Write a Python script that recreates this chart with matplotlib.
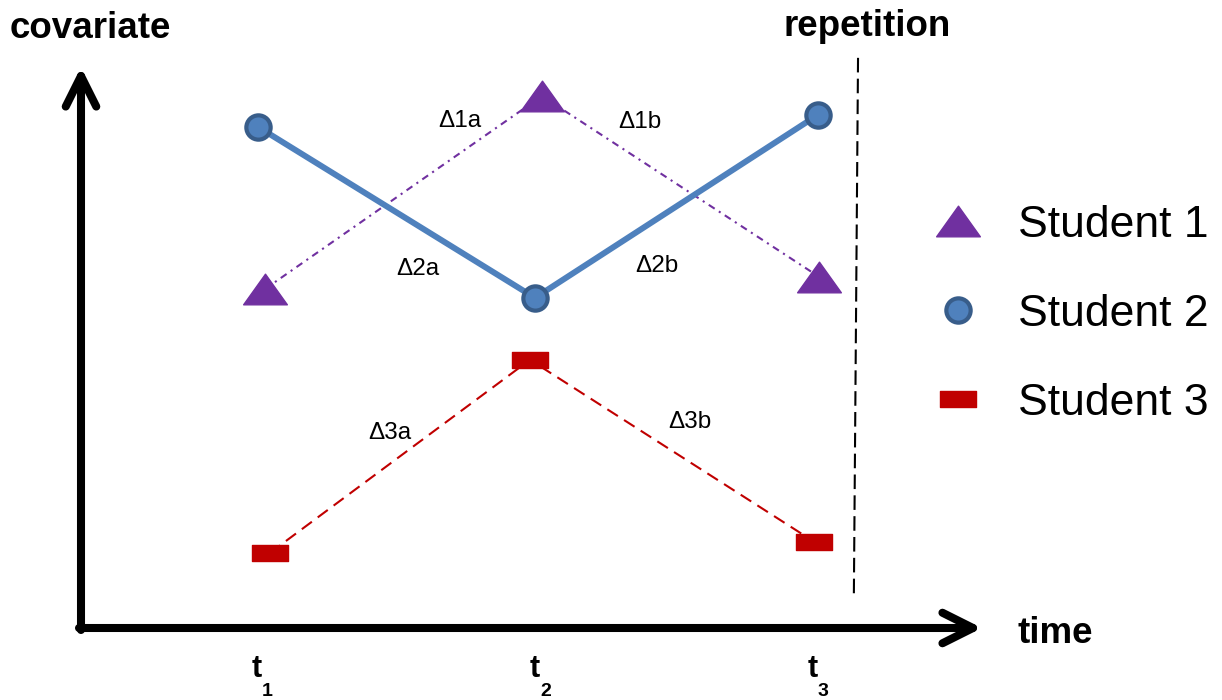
import matplotlib
matplotlib.use("Agg")
import matplotlib.pyplot as plt
from matplotlib.path import Path

plt.rcParams['font.family'] = ['Liberation Sans', 'DejaVu Sans']

# covariate values of the three students at the three time points
student1_t = [1.011, 2.007, 3.004]
student1_v = [6.13, 9.62, 6.35]
student2_t = [0.986, 1.982, 3.000]
student2_v = [9.06, 5.97, 9.28]
student3_t = [1.029, 1.964, 2.986]
student3_v = [1.36, 4.85, 1.56]

time_points = [1, 2, 3]
time_subscripts = ["1", "2", "3"]

# change labels between consecutive time points
delta_labels = ["\u03941a", "\u03941b", "\u03942a", "\u03942b", "\u03943a", "\u03943b"]
delta_t = [1.712, 2.360, 1.561, 2.421, 1.460, 2.540]
delta_v = [9.06, 9.04, 6.38, 6.44, 3.42, 3.62]

# boundary marking the repetition
repetition_t = [3.144, 3.129]
repetition_v = [10.31, 0.60]

purple = "#7030a0"
blue = "#4f81bd"
blue_edge = "#385d8a"
red = "#c00000"

tri = Path([(-1, -0.7), (1, -0.7), (0, 0.7), (-1, -0.7)],
           [Path.MOVETO, Path.LINETO, Path.LINETO, Path.CLOSEPOLY])
rect = Path([(-1, -0.44), (1, -0.44), (1, 0.44), (-1, 0.44), (-1, -0.44)],
            [Path.MOVETO, Path.LINETO, Path.LINETO, Path.LINETO, Path.CLOSEPOLY])

fig = plt.figure(figsize=(12.22, 7), dpi=100)
ax = fig.add_axes([0, 0, 1, 1])
ax.set_xlim(0.0576, 4.4532)
ax.set_ylim(-1.302, 11.356)
ax.axis("off")

# connecting lines
l1, = ax.plot(student1_t, student1_v, color=purple, lw=1.5, zorder=2)
l1.set_dashes([3.4, 2.4, 1, 2.4])
ax.plot(student2_t, student2_v, color=blue, lw=4.3, solid_capstyle="butt", zorder=3)
l3, = ax.plot(student3_t, student3_v, color=red, lw=1.5, zorder=2)
l3.set_dashes([6, 3.5])

# markers
h1, = ax.plot(student1_t, student1_v, ls="none", marker=tri, ms=31.5,
              mfc=purple, mec=purple, mew=1, label="Student 1", zorder=5)
h2, = ax.plot(student2_t, student2_v, ls="none", marker="o", ms=17.5,
              mfc=blue, mec=blue_edge, mew=3, label="Student 2", zorder=5)
h3, = ax.plot(student3_t, student3_v, ls="none", marker=rect, ms=25.5,
              mfc=red, mec=red, mew=1, label="Student 3", zorder=5)

# repetition boundary
rep, = ax.plot(repetition_t, repetition_v, color="black", lw=1.5)
rep.set_dashes([7, 3])

for lab, t, v in zip(delta_labels, delta_t, delta_v):
    ax.text(t, v, lab, fontsize=17.5, ha="center", va="baseline")

# axes arrows
arrow = dict(arrowstyle="->", lw=5.8, color="black", mutation_scale=55,
             shrinkA=0, shrinkB=0, capstyle="round", joinstyle="round")
ax.annotate("", xy=(982, 72), xytext=(79, 72), xycoords="figure pixels",
            textcoords="figure pixels", arrowprops=arrow)
ax.annotate("", xy=(81, 633), xytext=(81, 70), xycoords="figure pixels",
            textcoords="figure pixels", arrowprops=arrow)

ax.text(10 / 1222, 1 - 38 / 700, "covariate", transform=ax.transAxes,
        fontsize=26.5, fontweight="bold", ha="left", va="baseline")
ax.text(783 / 1222, 1 - 36 / 700, "repetition", transform=ax.transAxes,
        fontsize=26.5, fontweight="bold", ha="left", va="baseline")
ax.text(1017 / 1222, 1 - 643 / 700, "time", transform=ax.transAxes,
        fontsize=26.5, fontweight="bold", ha="left", va="baseline")

# time tick labels
xt = ax.get_xaxis_transform()
for t, sub in zip(time_points, time_subscripts):
    ax.text(t, 1 - 677 / 700, "t", transform=xt, fontsize=22,
            fontweight="bold", ha="right", va="baseline")
    ax.text(t, 1 - 696 / 700, sub, transform=xt, fontsize=14,
            fontweight="bold", ha="left", va="baseline")

ax.legend(handles=[h1, h2, h3], loc="center left",
          bbox_to_anchor=(936 / 1222, 1 - 314 / 700), frameon=False,
          fontsize=32, handlelength=1.0, handletextpad=0.85,
          labelspacing=1.08, borderpad=0, borderaxespad=0)

fig.savefig("out.png", dpi=100)
